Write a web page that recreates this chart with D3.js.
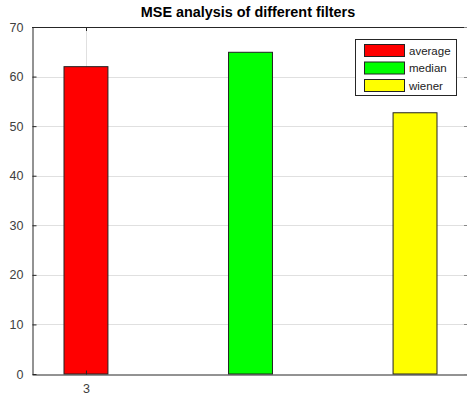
<!DOCTYPE html>
<html><head><meta charset="utf-8">
<script src="https://cdn.jsdelivr.net/npm/d3@7"></script>
<style>body{margin:0;background:#fff}svg{display:block}text{font-family:"Liberation Sans",Arial,sans-serif}</style>
</head><body>
<svg id="c" width="467" height="398"></svg>
<script>
const filters = ["average", "median", "wiener"];
const mseValues = [62.0, 64.9, 52.7];
const barPositions = [3, 4, 5];
const colors = ["#ff0000", "#00ff00", "#ffff00"];
const yTicks = [0, 10, 20, 30, 40, 50, 60, 70];
const xTicks = [3];
const xTickLabels = ["3"];
const title = "MSE analysis of different filters";

const svg = d3.select("#c");
const L = 32, R = 469, T = 27, B = 374;
const x = d3.scaleLinear().domain([2.672, 5.328]).range([L, R]);
const y = d3.scaleLinear().domain([0, 70]).range([B, T]);
const barW = x(3.1335) - x(2.8665);
const axisCol = "#262626";

// grid
const g = svg.append("g");
g.selectAll(".hg").data(yTicks.slice(1, -1)).join("line")
  .attr("x1", L).attr("x2", R).attr("y1", d => Math.round(y(d)) + 0.5).attr("y2", d => Math.round(y(d)) + 0.5)
  .attr("stroke", "#e0e0e0").attr("stroke-width", 1);
g.selectAll(".vg").data(xTicks).join("line")
  .attr("x1", d => Math.round(x(d)) + 0.5).attr("x2", d => Math.round(x(d)) + 0.5).attr("y1", T).attr("y2", B)
  .attr("stroke", "#e0e0e0").attr("stroke-width", 1);

// bars
svg.append("g").selectAll("rect").data(mseValues).join("rect")
  .attr("x", (d, i) => x(barPositions[i]) - barW / 2)
  .attr("width", barW)
  .attr("y", d => y(d))
  .attr("height", d => y(0) - y(d))
  .attr("fill", (d, i) => colors[i])
  .attr("stroke", "#222").attr("stroke-width", 1);

// axes
const yAxis = d3.axisLeft(y).tickValues(yTicks).tickSizeInner(-4).tickSizeOuter(0).tickPadding(9);
const ya = svg.append("g").attr("transform", `translate(${L + 0.5},0)`).call(yAxis);
ya.select(".domain").attr("stroke", axisCol);
ya.selectAll(".tick line").attr("stroke", axisCol);
ya.selectAll("text").attr("fill", "#404040").attr("font-size", 12.5).attr("font-family", "Liberation Sans, Arial, sans-serif");

const xAxis = d3.axisBottom(x).tickValues(xTicks).tickFormat((d, i) => xTickLabels[i]).tickSizeInner(-4).tickSizeOuter(0).tickPadding(10);
const xa = svg.append("g").attr("transform", `translate(0,${B + 0.5})`).call(xAxis);
xa.select(".domain").attr("stroke", axisCol);
xa.selectAll(".tick line").attr("stroke", axisCol);
xa.selectAll("text").attr("fill", "#404040").attr("font-size", 12.5).attr("font-family", "Liberation Sans, Arial, sans-serif");

// top box line and top ticks
svg.append("line").attr("x1", L).attr("x2", R).attr("y1", T + 0.5).attr("y2", T + 0.5).attr("stroke", axisCol);
svg.selectAll(".tt").data(xTicks).join("line")
  .attr("x1", d => Math.round(x(d)) + 0.5).attr("x2", d => Math.round(x(d)) + 0.5)
  .attr("y1", T).attr("y2", T + 4).attr("stroke", axisCol);
svg.selectAll(".rt").data(yTicks).join("line")
  .attr("x1", R - 5).attr("x2", R).attr("y1", d => Math.round(y(d)) + 0.5).attr("y2", d => Math.round(y(d)) + 0.5)
  .attr("stroke", "#888");

// title
svg.append("text").attr("x", 248).attr("y", 17).attr("text-anchor", "middle")
  .attr("font-size", 14.4).attr("font-weight", "bold").attr("fill", "#000").text(title);

// legend
const lg = svg.append("g");
lg.append("rect").attr("x", 355.5).attr("y", 39.5).attr("width", 101).attr("height", 56)
  .attr("fill", "#fff").attr("stroke", axisCol).attr("stroke-width", 1);
filters.forEach((f, i) => {
  lg.append("rect").attr("x", 364.5).attr("y", 44.5 + i * 17.5).attr("width", 40).attr("height", 12)
    .attr("fill", colors[i]).attr("stroke", "#222");
  lg.append("text").attr("x", 409).attr("y", 54.5 + i * 17.5).attr("font-size", 11.5).attr("fill", "#222").text(f);
});
</script>
</body></html>
